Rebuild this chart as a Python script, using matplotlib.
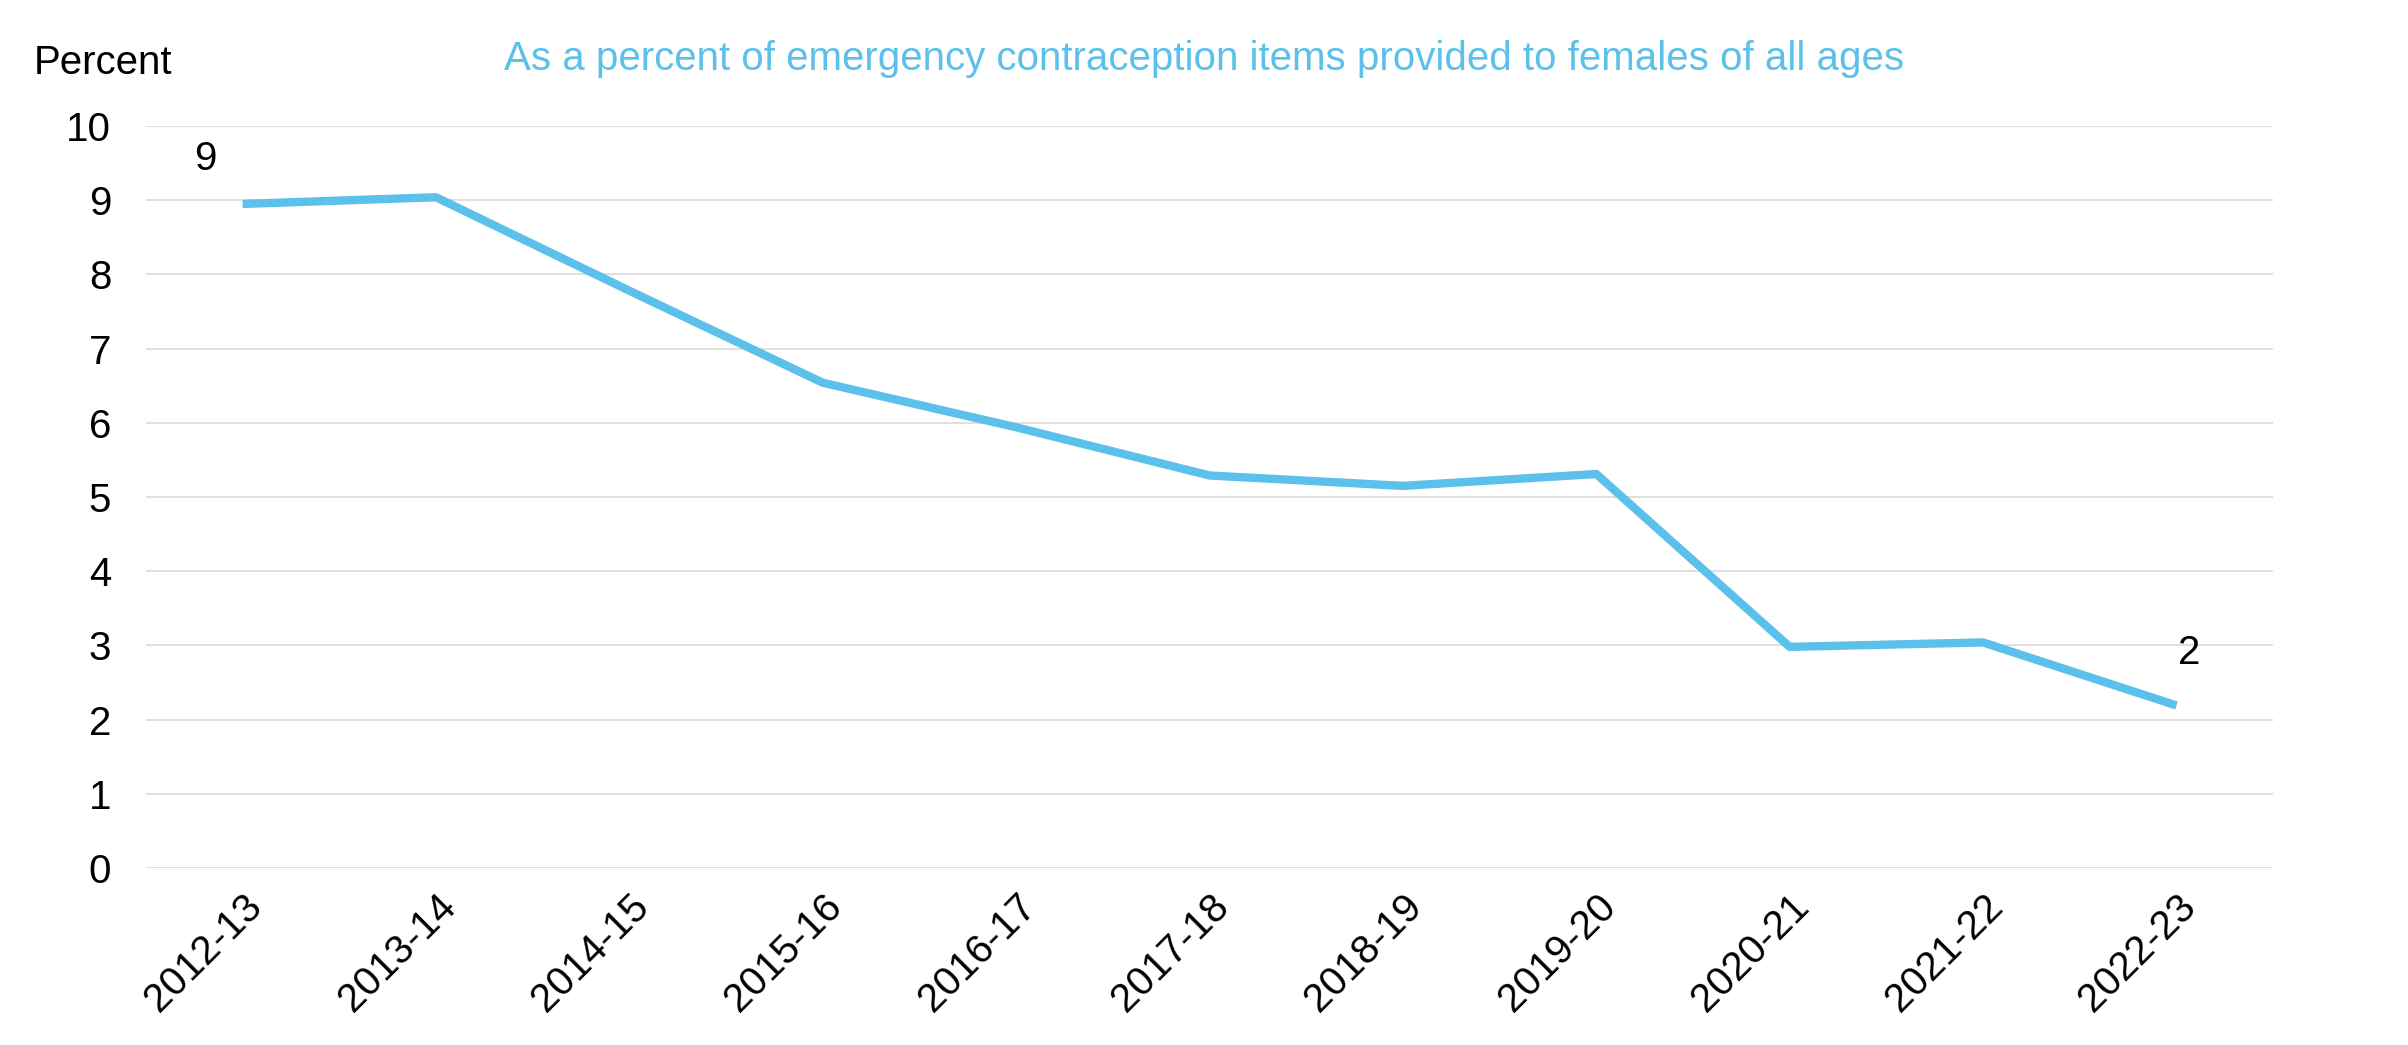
import matplotlib
matplotlib.use("Agg")
import matplotlib.pyplot as plt

plt.rcParams['font.family'] = ['Liberation Sans', 'DejaVu Sans']

years = ['2012-13', '2013-14', '2014-15', '2015-16', '2016-17', '2017-18',
         '2018-19', '2019-20', '2020-21', '2021-22', '2022-23']
percent = [8.95, 9.04, 7.78, 6.54, 5.94, 5.29, 5.15, 5.31, 2.98, 3.04, 2.19]
blue = '#5bc0ea'
fs = 29

fig = plt.figure(figsize=(24.08, 10.45), dpi=100)
ax = fig.add_axes([0.0606, 0.1694, 0.8834, 0.710])

x = range(len(years))
ax.plot(x, percent, color=blue, lw=6, solid_capstyle='butt')
ax.set_xlim(-0.5, len(years) - 0.5)
ax.set_ylim(0, 10)
ax.set_yticks(range(0, 11))
ax.set_xticks(list(x))
ax.set_xticklabels(years, rotation=45, ha='right', rotation_mode='anchor')
ax.tick_params(axis='both', length=0, labelsize=fs)
ax.tick_params(axis='x', pad=14)
ax.tick_params(axis='y', pad=25)
ax.grid(axis='y', color='#d9d9d9', lw=1.2)
ax.set_axisbelow(True)
for s in ax.spines.values():
    s.set_visible(False)

# end labels
ax.annotate('9', (0, percent[0]), xytext=(-27, 32), textcoords='offset points',
            fontsize=fs, ha='center', va='center')
ax.annotate('2', (10, percent[-1]), xytext=(9, 38), textcoords='offset points',
            fontsize=fs, ha='center', va='center')

fig.text(0.5, 0.944, 'As a percent of emergency contraception items provided to females of all ages',
         color=blue, fontsize=fs, ha='center', va='center')
fig.text(0.014, 0.94, 'Percent', fontsize=fs, ha='left', va='center')

fig.savefig('out.png', dpi=100)
